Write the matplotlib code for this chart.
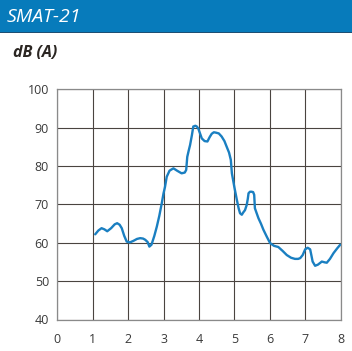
import matplotlib
matplotlib.use('Agg')
import matplotlib.pyplot as plt
from matplotlib.patches import Rectangle

# curve (x in units, level in dB(A))
x_vals = [1.07, 1.16, 1.25, 1.33, 1.41, 1.52, 1.62, 1.69, 1.76, 1.82, 1.89, 1.96,
          2.05, 2.15, 2.25, 2.34, 2.42, 2.48, 2.55, 2.60, 2.66, 2.74, 2.81, 2.88,
          2.95, 3.00, 3.04, 3.09, 3.17, 3.28, 3.38, 3.51, 3.60, 3.64, 3.67, 3.71,
          3.75, 3.80, 3.84, 3.90, 3.94, 3.98, 4.03, 4.08, 4.16, 4.24, 4.30, 4.36,
          4.42, 4.48, 4.56, 4.64, 4.72, 4.78, 4.85, 4.90, 4.93, 5.00, 5.07, 5.12,
          5.16, 5.21, 5.25, 5.30, 5.35, 5.38, 5.40, 5.44, 5.49, 5.53, 5.56, 5.58,
          5.63, 5.68, 5.75, 5.82, 5.92, 6.01, 6.12, 6.24, 6.36, 6.48, 6.60, 6.71,
          6.80, 6.86, 6.93, 7.00, 7.07, 7.14, 7.18, 7.21, 7.28, 7.36, 7.47, 7.55,
          7.61, 7.70, 7.80, 7.90, 7.99]
db_vals = [62.2, 63.2, 63.8, 63.5, 63.0, 63.8, 64.8, 65.1, 64.7, 63.8, 61.8, 60.3,
           60.1, 60.5, 61.0, 61.2, 61.1, 60.8, 60.2, 59.0, 59.5, 61.8, 64.2, 67.0,
           70.3, 72.9, 74.5, 77.2, 78.8, 79.4, 78.8, 78.1, 78.3, 79.0, 82.4, 84.0,
           85.5, 88.0, 90.3, 90.5, 90.3, 89.8, 88.5, 87.2, 86.5, 86.4, 87.5, 88.4,
           88.8, 88.7, 88.5, 87.7, 86.5, 85.1, 83.5, 81.6, 78.1, 74.5, 71.2, 69.0,
           67.7, 67.3, 67.9, 68.5, 69.9, 71.5, 72.9, 73.3, 73.3, 73.2, 72.5, 69.0,
           67.7, 66.4, 65.0, 63.4, 61.5, 59.9, 59.2, 58.9, 57.9, 56.8, 56.1, 55.8,
           55.8, 56.0, 56.8, 58.3, 58.7, 58.3, 56.5, 55.1, 54.0, 54.3, 55.1, 54.9,
           54.8, 55.8, 57.3, 58.5, 59.5]

x_ticks = [0, 1, 2, 3, 4, 5, 6, 7, 8]
y_ticks = [40, 50, 60, 70, 80, 90, 100]

title_text = 'SMAT-21'
unit_text = 'dB (A)'

W, H = 352, 351
fig = plt.figure(figsize=(W / 100, H / 100), dpi=100)

# header bar
fig.patches.append(Rectangle((0, 1 - 32 / H), 1, 32 / H, transform=fig.transFigure,
                             facecolor='#077bbb', edgecolor='none', zorder=0))
fig.patches.append(Rectangle((0, 1 - 33 / H), 1, 1.2 / H, transform=fig.transFigure,
                             facecolor='#1d4f73', edgecolor='none', zorder=1))
fig.text(7 / W, 1 - 17 / H, title_text, color='white', fontsize=14,
         family='Open Sans', style='italic', va='center', ha='left')
fig.text(13 / W, 1 - 53 / H, unit_text, color='#2b2622', fontsize=11.5,
         family='Open Sans', style='italic', weight='bold', va='center', ha='left')

ax = fig.add_axes([57.3 / W, 31.5 / H, 283.3 / W, 230.2 / H])
ax.plot(x_vals, db_vals, color='#1a7fc1', linewidth=1.7, solid_capstyle='round',
        solid_joinstyle='round', zorder=3)

ax.set_xlim(0, 8)
ax.set_ylim(40, 100)
ax.set_xticks(x_ticks)
ax.set_yticks(y_ticks)
ax.grid(True, color='#4a4440', linewidth=0.8)
for s in ax.spines.values():
    s.set_color('#8a8a8a')
    s.set_linewidth(0.9)
ax.tick_params(length=0, labelsize=9, labelcolor='#3a3a3a')
ax.tick_params(axis='x', pad=10)
ax.tick_params(axis='y', pad=6)
for lab in ax.get_xticklabels() + ax.get_yticklabels():
    lab.set_family('Open Sans')

fig.savefig('out.png', dpi=100)
